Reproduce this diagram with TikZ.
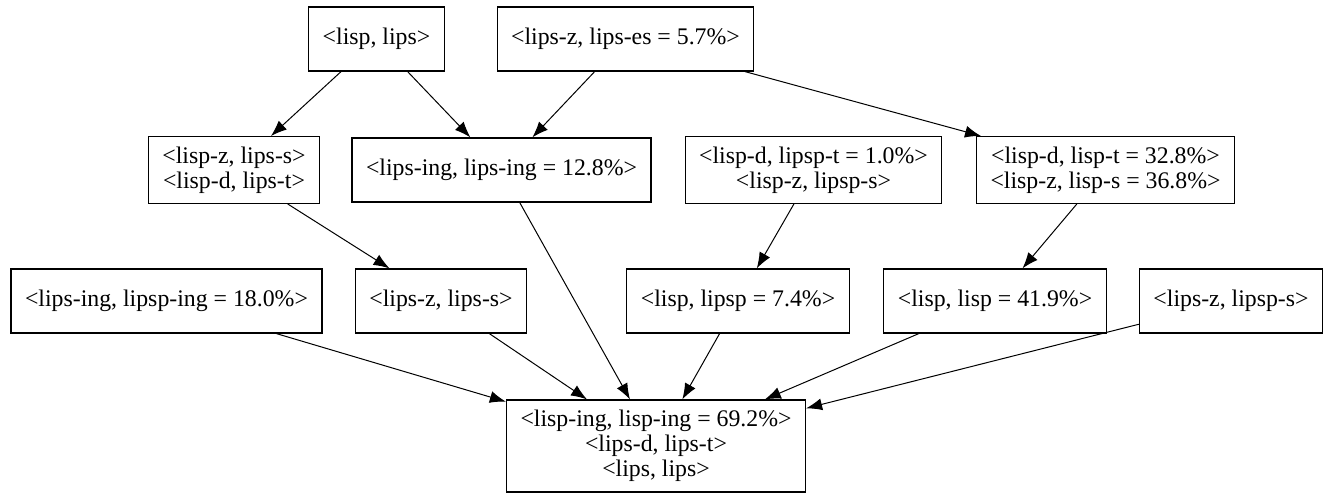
\documentclass[tikz,border=0pt]{standalone}
\usepackage{fontspec}
\setmainfont{Liberation Serif}
\usetikzlibrary{arrows.meta}

\begin{document}
\begin{tikzpicture}[x=0.5pt, y=-0.5pt,
  pair/.style={draw, line width=0.6pt, align=center, inner xsep=7pt, inner ysep=5pt,
    minimum height=32pt, font=\fontsize{11.9}{12.6}\selectfont},
  link/.style={->, >={Latex[length=8pt, width=6pt]}, line width=0.5pt}]

\useasboundingbox (0, 0) rectangle (1331, 497);

% first rank
\node[pair] (lisplips) at (376.5, 39) {<lisp, lips>};
\node[pair] (lipsz) at (625.5, 39) {<lips-z, lips-es = 5.7\%>};

% second rank
\node[pair] (lispz) at (234, 170) {<lisp-z, lips-s>\\<lisp-d, lips-t>};
\node[pair] (lipsing) at (501.5, 170) {<lips-ing, lips-ing = 12.8\%>};
\node[pair] (lispd) at (813.5, 170) {<lisp-d, lipsp-t = 1.0\%>\\<lisp-z, lipsp-s>};
\node[pair] (lispdt) at (1105.5, 170) {<lisp-d, lisp-t = 32.8\%>\\<lisp-z, lisp-s = 36.8\%>};

% third rank
\node[pair] (lipsping) at (166.5, 301) {<lips-ing, lipsp-ing = 18.0\%>};
\node[pair] (lipszs) at (441, 301) {<lips-z, lips-s>};
\node[pair] (lisplipsp) at (738, 301) {<lisp, lipsp = 7.4\%>};
\node[pair] (lisplisp) at (995, 301) {<lisp, lisp = 41.9\%>};
\node[pair] (lipszsp) at (1231, 301) {<lips-z, lipsp-s>};

% bottom
\node[pair] (lisping) at (656, 446) {<lisp-ing, lisp-ing = 69.2\%>\\<lips-d, lips-t>\\<lips, lips>};

\draw[link] (lisplips) -- (lispz);
\draw[link] (lisplips) -- (lipsing);
\draw[link] (lipsz) -- (lipsing);
\draw[link] (lipsz) -- (lispdt);
\draw[link] (lispz) -- (lipszs);
\draw[link] (lispd) -- (lisplipsp);
\draw[link] (lispdt) -- (lisplisp);
\draw[link] (lipsing) -- (lisping);
\draw[link] (lipsping) -- (lisping);
\draw[link] (lipszs) -- (lisping);
\draw[link] (lisplipsp) -- (lisping);
\draw[link] (lisplisp) -- (lisping);
\draw[link] (lipszsp) -- (lisping);

\end{tikzpicture}
\end{document}
